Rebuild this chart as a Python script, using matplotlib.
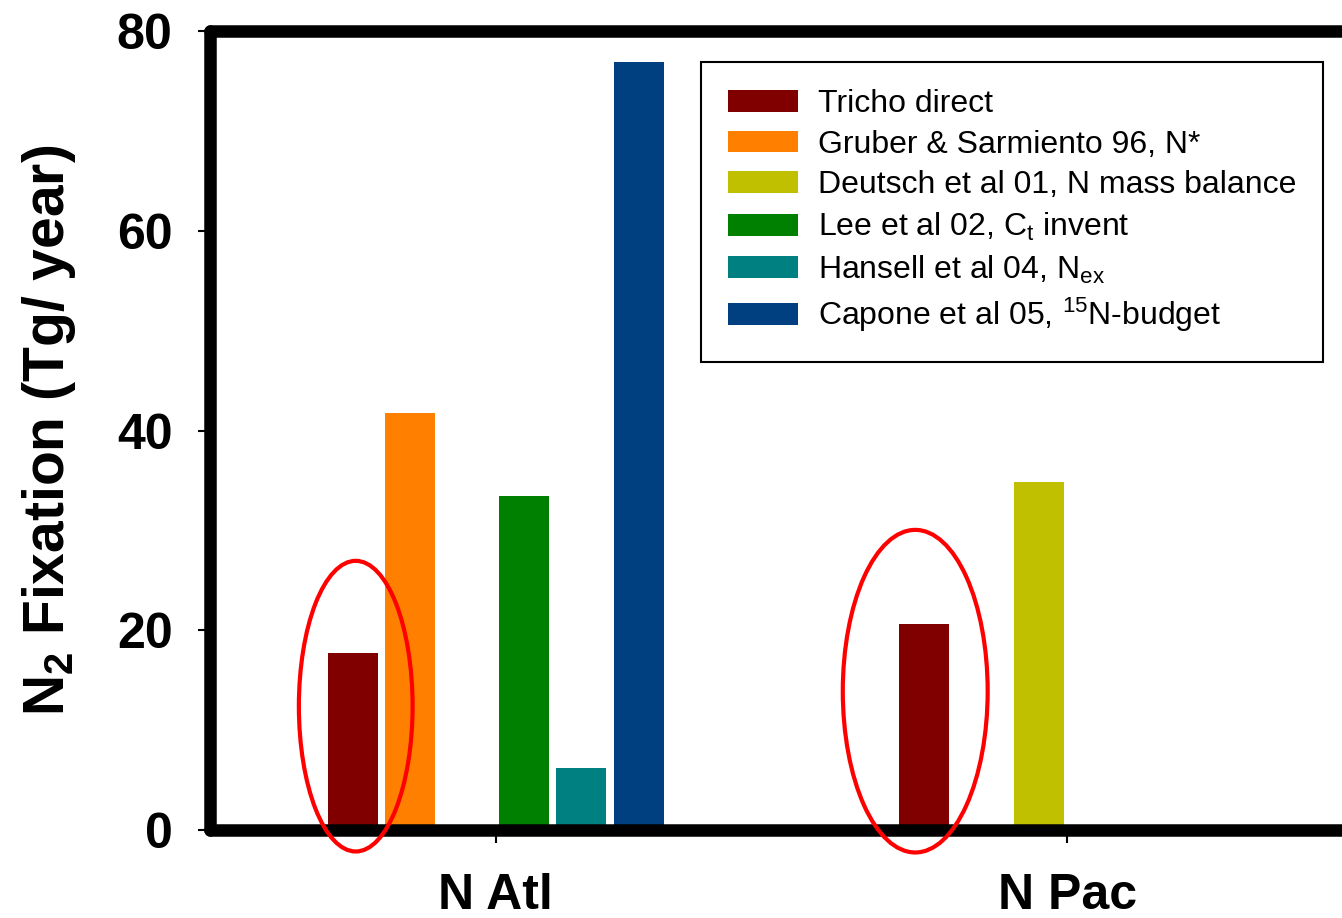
import matplotlib
matplotlib.use("Agg")
import matplotlib.pyplot as plt
from matplotlib.patches import Ellipse
import numpy as np

plt.rcParams['font.family'] = ['Liberation Sans', 'DejaVu Sans']
plt.rcParams['mathtext.fontset'] = 'custom'
plt.rcParams['mathtext.rm'] = 'Liberation Sans'
plt.rcParams['mathtext.it'] = 'Liberation Sans:italic'
plt.rcParams['mathtext.bf'] = 'Liberation Sans:bold'

regions = ["N Atl", "N Pac"]
series = ["Tricho direct",
          "Gruber & Sarmiento 96, N*",
          "Deutsch et al 01, N mass balance",
          r"Lee et al 02, C$\mathregular{_t}$ invent",
          r"Hansell et al 04, N$\mathregular{_{ex}}$",
          r"Capone et al 05, $\mathregular{^{15}}$N-budget"]
colors = ["#800000", "#FF8000", "#C0C000", "#008000", "#008080", "#003F80"]
# values per series: [N Atl, N Pac]; None = no bar
values = [
    [17.7, 20.6],
    [41.8, None],
    [None, 34.8],
    [33.4, None],
    [6.2, None],
    [76.9, None],
]
yticks = [0, 20, 40, 60, 80]

fig = plt.figure(figsize=(13.42, 9.18), dpi=100)
ax = fig.add_axes([210/1342, 1-830/918, (1353-210)/1342, (830-31)/918])

n = len(series)
slot = 0.1
bw = 0.0875
x = np.arange(len(regions))
for i, (lab, col, vals) in enumerate(zip(series, colors, values)):
    offs = (i - (n-1)/2) * slot
    xs = [xx + offs for xx, v in zip(x, vals) if v is not None]
    vs = [v for v in vals if v is not None]
    ax.bar(xs, vs, width=bw, color=col, label=lab, zorder=2)

ax.set_xlim(-0.5, 1.5)
ax.set_ylim(0, 80)
ax.set_yticks(yticks)
ax.set_xticks(x)
ax.set_xticklabels(regions)
for s in ['left', 'top', 'bottom', 'right']:
    ax.spines[s].set_linewidth(9)
    ax.spines[s].set_capstyle('round')
ax.tick_params(axis='both', length=9, width=1.5, labelsize=36)
ax.tick_params(axis='y', pad=18)
ax.tick_params(axis='x', pad=22)
for t in ax.get_xticklabels() + ax.get_yticklabels():
    t.set_fontweight('bold')
ax.set_ylabel(r"N$\mathregular{_2}$ Fixation (Tg/ year)", fontsize=41, fontweight='bold', labelpad=28)

# red ellipses
ax.add_patch(Ellipse((-0.245, 12.4), 0.199, 29.1, fill=False, edgecolor='#FF0000', lw=3, clip_on=False, zorder=3))
ax.add_patch(Ellipse((0.734, 13.9), 0.2535, 32.3, fill=False, edgecolor='#FF0000', lw=3, clip_on=False, zorder=3))

leg = ax.legend(loc='upper left', bbox_to_anchor=(701/1342, 1-62/918), bbox_transform=fig.transFigure,
                fontsize=23, frameon=True, fancybox=False, edgecolor='black', framealpha=1,
                handlelength=2.2, handleheight=0.68, handletextpad=0.6, labelspacing=0.33,
                borderpad=0.85, borderaxespad=0)
leg.get_frame().set_linewidth(1.5)

fig.savefig("out.png", dpi=100)
